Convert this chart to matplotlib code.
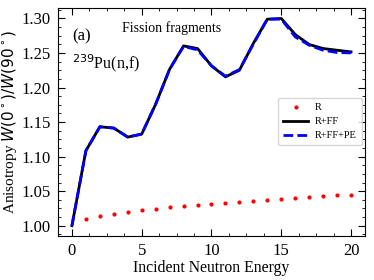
import matplotlib.pyplot as plt
from matplotlib.ticker import AutoMinorLocator

plt.rcParams['font.family'] = ['Liberation Serif', 'DejaVu Serif']
plt.rcParams['mathtext.fontset'] = 'dejavusans'

# dati
energija = list(range(0, 21))
r_energija = list(range(1, 21))
r_vert = [1.0100, 1.0145, 1.0174, 1.0198, 1.0222, 1.0241, 1.0266, 1.0285, 1.0304, 1.0316,
          1.0333, 1.0347, 1.0362, 1.0371, 1.0386, 1.0400, 1.0415, 1.0430, 1.0440, 1.0450]
r_ff = [1.000, 1.1085, 1.1432, 1.1413, 1.1283, 1.1326, 1.176, 1.2266, 1.2603, 1.2565, 1.2314,
        1.2155, 1.225, 1.264, 1.299, 1.300, 1.2768, 1.2623, 1.2565, 1.2540, 1.2516]
r_ff_pe = [1.000, 1.1085, 1.1432, 1.1413, 1.1283, 1.1326, 1.176, 1.2266, 1.2595, 1.2545, 1.2314,
           1.2165, 1.226, 1.263, 1.299, 1.299, 1.2733, 1.2613, 1.2540, 1.2507, 1.2502]

fig = plt.figure(figsize=(3.74, 2.80), dpi=100)
ax = fig.add_axes([0.155, 0.157, 0.821, 0.814])

ax.plot(r_energija, r_vert, linestyle='none', marker='o', markersize=2, color='red', label='R')
ax.plot(energija, r_ff, color='black', linewidth=2, label='R+FF')
ax.plot(energija, r_ff_pe, color='blue', linewidth=2, linestyle=(0, (3.5, 1.5)), label='R+FF+PE')

ax.set_xlim(-1, 21)
ax.set_ylim(0.985, 1.315)
ax.set_xticks([0, 5, 10, 15, 20])
ax.set_yticks([1.00, 1.05, 1.10, 1.15, 1.20, 1.25, 1.30])
ax.xaxis.set_minor_locator(AutoMinorLocator(4))
ax.yaxis.set_minor_locator(AutoMinorLocator(4))
ax.tick_params(which='both', direction='in', top=True, right=True, labelsize=12)
ax.tick_params(which='major', length=5, pad=5)
ax.tick_params(which='minor', length=2.5)

ax.set_xlabel('Incident Neutron Energy', fontsize=11.3, labelpad=1)
ax.set_ylabel('Anisotropy $W(0^\\circ)/W(90^\\circ)$', fontsize=11, labelpad=2)

ax.text(0.046, 0.877, '(a)', transform=ax.transAxes, fontsize=12, va='center')
ax.text(0.208, 0.912, 'Fission fragments', transform=ax.transAxes, fontsize=10, va='center')
ax.text(0.046, 0.759, '$^{239}$Pu(n,f)', transform=ax.transAxes, fontsize=11.5, va='center')

ax.legend(loc='center', bbox_to_anchor=(0.853, 0.502), fontsize=7.5, frameon=True,
          handlelength=2.4, labelspacing=0.45, borderpad=0.5, handletextpad=0.6)

plt.savefig('out.png', dpi=100)
